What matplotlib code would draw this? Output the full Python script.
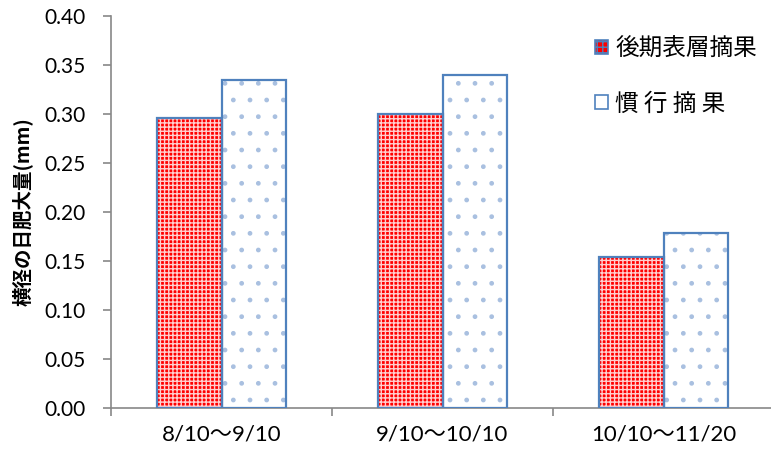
import matplotlib
matplotlib.use("Agg")
import matplotlib.pyplot as plt
import numpy as np
from matplotlib.patches import Patch

plt.rcParams["font.family"] = ["Lato", "Noto Sans CJK JP", "DejaVu Sans"]
plt.rcParams["hatch.linewidth"] = 1.0

categories = ["8/10〜9/10", "9/10〜10/10", "10/10〜11/20"]
late_surface = [0.296, 0.300, 0.154]
conventional = [0.335, 0.340, 0.179]
series_names = ["後期表層摘果", "慣 行 摘 果"]
yticks = [0.00, 0.05, 0.10, 0.15, 0.20, 0.25, 0.30, 0.35, 0.40]

EDGE = "#4f81bd"
RED = "#ff0000"

fig = plt.figure(figsize=(7.71, 4.58), dpi=100)
ax = fig.add_axes([0.144, 0.109, 0.86, 0.856])

x = np.arange(len(categories))
w = 0.29

# red bars with light cross hatch
ax.bar(x - w / 2, late_surface, w, color=RED, edgecolor="#ffd0d0", hatch="++++", linewidth=0, zorder=2)
ax.bar(x - w / 2, late_surface, w, fill=False, edgecolor=EDGE, linewidth=1.6, zorder=3)
# white bars with blue dots
ax.bar(x + w / 2, conventional, w, color="white", edgecolor="#a9c0e0", hatch=".", linewidth=0, zorder=2)
ax.bar(x + w / 2, conventional, w, fill=False, edgecolor=EDGE, linewidth=1.6, zorder=3)

ax.set_xlim(-0.5, 2.5)
ax.set_ylim(0, 0.4)
ax.set_yticks(yticks)
ax.set_yticklabels([f"{v:.2f}" for v in yticks], fontsize=15)
ax.set_xticks(x)
ax.set_xticklabels(categories, fontsize=16)
ax.tick_params(axis="x", length=0, pad=12)
ax.set_xticks([-0.5, 0.5, 1.5, 2.5], minor=True)
ax.tick_params(axis="x", which="minor", length=6, color="#888888", width=1.2)
ax.tick_params(axis="y", length=6, color="#888888", width=1.2, pad=12)

for s in ["top", "right"]:
    ax.spines[s].set_visible(False)
for s in ["left", "bottom"]:
    ax.spines[s].set_color("#888888")
    ax.spines[s].set_linewidth(1.2)

ax.set_ylabel("横径の日肥大量(mm)", fontsize=14, fontweight="bold",
              family=["Noto Sans CJK JP", "DejaVu Sans"], labelpad=9)

handles = [
    Patch(facecolor=RED, edgecolor=EDGE, hatch="+++", linewidth=1.2),
    Patch(facecolor="white", edgecolor=EDGE, linewidth=1.2),
]
leg = ax.legend(handles, series_names, loc="upper left", bbox_to_anchor=(0.73, 0.945),
                frameon=False, handlelength=0.55, handleheight=0.55,
                handletextpad=0.3, labelspacing=1.35, borderpad=0, borderaxespad=0,
                prop={"family": ["Noto Sans CJK JP"], "size": 17})

fig.savefig("out.png", dpi=100)
